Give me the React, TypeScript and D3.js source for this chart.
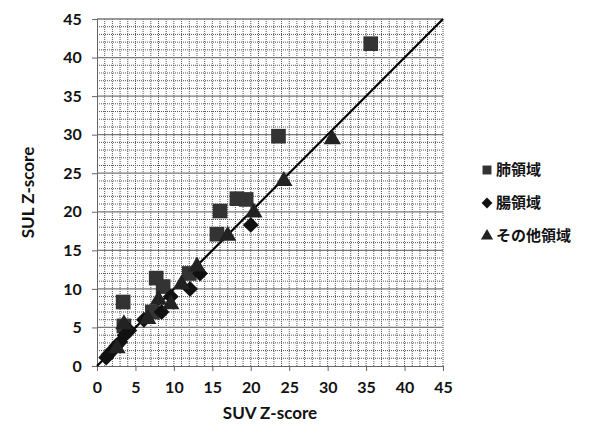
import React, { useEffect, useRef } from 'react';
import * as d3 from 'd3';

// 肺領域 (squares)
const lungPoints: [number, number][] = [
  [35.6, 41.8], [23.6, 29.8], [18.2, 21.7], [19.4, 21.6], [16.0, 20.1],
  [15.6, 17.1], [7.7, 11.4], [3.4, 8.3], [8.6, 10.3], [12.0, 12.0],
  [3.5, 5.2], [7.2, 7.0],
];
// 腸領域 (diamonds)
const bowelPoints: [number, number][] = [
  [20.0, 18.3], [12.1, 10.0], [13.4, 12.0], [9.6, 9.0], [8.4, 7.0],
  [6.1, 6.0], [4.2, 4.6], [3.0, 3.1], [2.5, 2.6], [2.0, 2.0],
  [1.5, 1.5], [1.2, 1.1], [3.6, 4.0],
];
// その他領域 (triangles)
const otherPoints: [number, number][] = [
  [30.6, 29.4], [24.3, 24.0], [17.0, 16.9], [20.4, 19.9], [13.0, 12.9],
  [9.6, 8.0], [8.0, 8.6], [3.5, 5.4], [6.6, 6.1], [11.0, 10.6], [2.6, 2.3],
];

const axisTicks = [0, 5, 10, 15, 20, 25, 30, 35, 40, 45];
const legendLabels = ['肺領域', '腸領域', 'その他領域'];

const width = 597;
const height = 437;
const marginLeft = 97;
const marginRight = 154;
const marginTop = 19;
const marginBottom = 71;

function App() {
  const chartRef = useRef<SVGSVGElement>(null);

  useEffect(() => {
    const svg = d3.select(chartRef.current)
      .attr('width', width)
      .attr('height', height)
      .attr('viewBox', [0, 0, width, height].join(' '));
    svg.selectAll('*').remove();

    const x = d3.scaleLinear().domain([0, 45]).range([marginLeft, width - marginRight]);
    const y = d3.scaleLinear().domain([0, 45]).range([height - marginBottom, marginTop]);
    const units = d3.range(0, 46);

    // minor grid (dotted, every unit)
    const grid = svg.append('g');
    grid.selectAll('line.vx')
      .data(units.slice(1))
      .join('line')
      .attr('x1', d => x(d)).attr('x2', d => x(d))
      .attr('y1', y(0)).attr('y2', y(45))
      .attr('stroke', '#555')
      .attr('stroke-width', 1)
      .attr('stroke-dasharray', '1,1');
    grid.selectAll('line.hy')
      .data(units.filter(d => d % 5 !== 0))
      .join('line')
      .attr('x1', x(0)).attr('x2', x(45))
      .attr('y1', d => y(d)).attr('y2', d => y(d))
      .attr('stroke', '#555')
      .attr('stroke-width', 1)
      .attr('stroke-dasharray', '1,1');
    // major horizontal lines
    grid.selectAll('line.major')
      .data(axisTicks.slice(1))
      .join('line')
      .attr('x1', x(0)).attr('x2', x(45))
      .attr('y1', d => y(d)).attr('y2', d => y(d))
      .attr('stroke', '#777')
      .attr('stroke-width', 1.3);

    // axes
    const fontFamily = 'Lato, "Open Sans", sans-serif';
    svg.append('g')
      .attr('transform', `translate(0,${y(0)})`)
      .call(d3.axisBottom(x).tickValues(axisTicks).tickSize(5).tickFormat(d3.format('d')))
      .call(g => g.select('.domain').attr('stroke', '#666'))
      .call(g => g.selectAll('.tick line').attr('stroke', '#666'))
      .call(g => g.selectAll('.tick text')
        .attr('dy', '1.2em')
        .attr('font-size', 16)
        .attr('font-weight', 'bold')
        .attr('font-family', fontFamily)
        .attr('fill', '#111'));
    svg.append('g')
      .attr('transform', `translate(${x(0)},0)`)
      .call(d3.axisLeft(y).tickValues(axisTicks).tickSize(5).tickFormat(d3.format('d')))
      .call(g => g.select('.domain').attr('stroke', '#666'))
      .call(g => g.selectAll('.tick line').attr('stroke', '#666'))
      .call(g => g.selectAll('.tick text')
        .attr('dx', '-0.45em')
        .attr('font-size', 16)
        .attr('font-weight', 'bold')
        .attr('font-family', fontFamily)
        .attr('fill', '#111'));

    // axis titles
    svg.append('text')
      .attr('x', (x(0) + x(45)) / 2)
      .attr('y', 419)
      .attr('text-anchor', 'middle')
      .attr('font-size', 17)
      .attr('font-weight', 'bold')
      .attr('font-family', fontFamily)
      .attr('fill', '#111')
      .text('SUV Z-score');
    svg.append('text')
      .attr('transform', `translate(34,${(y(0) + y(45)) / 2}) rotate(-90)`)
      .attr('text-anchor', 'middle')
      .attr('font-size', 17)
      .attr('font-weight', 'bold')
      .attr('font-family', fontFamily)
      .attr('fill', '#111')
      .text('SUL Z-score');

    // identity line
    svg.append('line')
      .attr('x1', x(0)).attr('y1', y(0))
      .attr('x2', x(45)).attr('y2', y(45))
      .attr('stroke', '#000')
      .attr('stroke-width', 2.2);

    const square = d3.symbol(d3.symbolSquare, 215);
    const diamond = d3.symbol(d3.symbolDiamond2, 160);
    const triangle = d3.symbol(d3.symbolTriangle, 130);

    const series = [
      { data: lungPoints, shape: square, fill: '#333' },
      { data: bowelPoints, shape: diamond, fill: '#111' },
      { data: otherPoints, shape: triangle, fill: '#222' },
    ];

    series.forEach(s => {
      svg.append('g')
        .selectAll('path')
        .data(s.data)
        .join('path')
        .attr('transform', d => `translate(${x(d[0])},${y(d[1])})`)
        .attr('d', s.shape)
        .attr('fill', s.fill);
    });

    // legend
    const legendShapes = [
      d3.symbol(d3.symbolSquare, 80),
      d3.symbol(d3.symbolDiamond2, 75),
      d3.symbol(d3.symbolTriangle, 65),
    ];
    const legend = svg.append('g').attr('transform', 'translate(487,170)');
    legend.selectAll('path')
      .data(legendLabels)
      .join('path')
      .attr('transform', (d, i) => `translate(0,${i * 33})`)
      .attr('d', (d, i) => legendShapes[i]())
      .attr('fill', (d, i) => series[i].fill);
    legend.selectAll('text')
      .data(legendLabels)
      .join('text')
      .attr('x', 9)
      .attr('y', (d, i) => i * 33)
      .attr('dy', '0.36em')
      .attr('font-size', 15)
      .attr('font-family', '"Noto Sans CJK JP", sans-serif')
      .attr('font-weight', 'bold')
      .attr('fill', '#111')
      .text(d => d);
  }, []);

  return (
    <div style={{ position: 'absolute', left: 0, top: 0 }}>
      <svg ref={chartRef} style={{ display: 'block' }}></svg>
    </div>
  );
}

export default App;
